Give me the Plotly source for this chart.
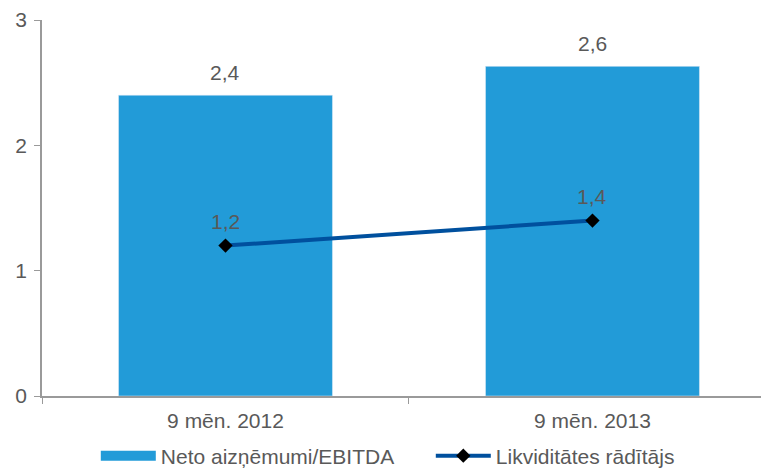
import plotly.graph_objects as go

categories = ["9 mēn. 2012", "9 mēn. 2013"]
neto_ebitda = [2.40, 2.63]
likviditate = [1.2, 1.4]
bar_labels = ["2,4", "2,6"]
line_labels = ["1,2", "1,4"]

BAR_COLOR = "#229BD8"
LINE_COLOR = "#00509E"
TEXT_COLOR = "#595959"
AXIS_COLOR = "#9A9A9A"
FONT = "Liberation Sans, Arial, sans-serif"
FS = 21

fig = go.Figure()
fig.add_trace(go.Bar(
    x=categories, y=neto_ebitda, marker_color=BAR_COLOR, width=0.583,
    showlegend=False, name="Neto aizņēmumi/EBITDA", hoverinfo="skip",
))
# legend proxy for the bar series (wide rectangle swatch)
fig.add_trace(go.Scatter(
    x=[None], y=[None], mode="lines", name="Neto aizņēmumi/EBITDA",
    line=dict(color=BAR_COLOR, width=14),
))
fig.add_trace(go.Scatter(
    x=categories, y=likviditate, mode="lines+markers", name="Likviditātes rādītājs",
    line=dict(color=LINE_COLOR, width=4),
    marker=dict(symbol="diamond", color="black", size=11),
))

for c, v, t in zip(categories, neto_ebitda, bar_labels):
    fig.add_annotation(x=c, y=v, text=t, showarrow=False, yanchor="bottom", yshift=9,
                       font=dict(size=FS, color=TEXT_COLOR, family=FONT))
for c, v, t in zip(categories, likviditate, line_labels):
    fig.add_annotation(x=c, y=v, text=t, showarrow=False, yanchor="bottom", yshift=11,
                       font=dict(size=FS, color=TEXT_COLOR, family=FONT))

fig.update_layout(
    width=761, height=462,
    margin=dict(l=34, r=0, t=12, b=74, autoexpand=False),
    plot_bgcolor="white", paper_bgcolor="white",
    separators=",.",
    font=dict(family=FONT, size=FS, color=TEXT_COLOR),
    bargap=0.417,
    legend=dict(orientation="h", x=0.074, xanchor="left", y=-0.105, yanchor="top",
                font=dict(size=FS, color=TEXT_COLOR), itemwidth=55,
                bgcolor="rgba(0,0,0,0)",
                entrywidth=265, traceorder="normal", tracegroupgap=0),
    xaxis=dict(range=[-0.5, 1.481], showline=True, linecolor=AXIS_COLOR, linewidth=1.5,
               ticks="outside", tickson="boundaries", ticklen=6, tickcolor=AXIS_COLOR,
               ticklabelstandoff=5,
               showgrid=False, automargin=False, tickfont=dict(size=FS, color=TEXT_COLOR)),
    yaxis=dict(range=[0, 3], tickvals=[0, 1, 2, 3], showline=True, linecolor=AXIS_COLOR,
               linewidth=1.5, ticks="outside", ticklen=6, tickcolor=AXIS_COLOR,
               ticklabelstandoff=3,
               showgrid=False, zeroline=False, automargin=False,
               tickfont=dict(size=FS, color=TEXT_COLOR)),
)

fig.write_html("out.html")
